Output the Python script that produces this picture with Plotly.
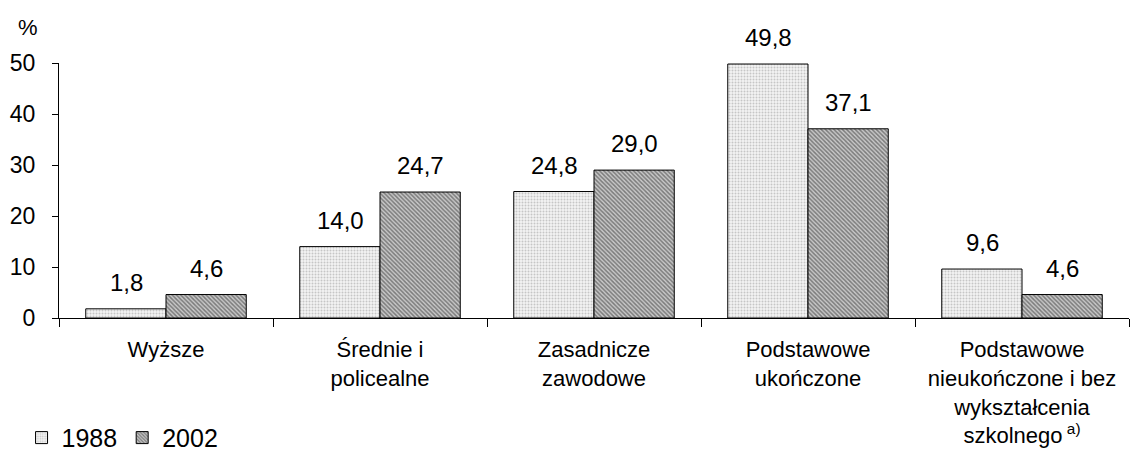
import plotly.graph_objects as go

categories = ["Wyższe", "Średnie i<br>policealne", "Zasadnicze<br>zawodowe",
              "Podstawowe<br>ukończone",
              "Podstawowe<br>nieukończone i bez<br>wykształcenia<br>szkolnego<sup> a)</sup>"]
years = ["1988", "2002"]
v1988 = [1.8, 14.0, 24.8, 49.8, 9.6]
v2002 = [4.6, 24.7, 29.0, 37.1, 4.6]
yticks = [0, 10, 20, 30, 40, 50]

FONT = "Liberation Sans, Arial, sans-serif"

fig = go.Figure()
fig.add_trace(go.Bar(
    name=years[0], x=categories, y=v1988,
    marker=dict(color="#f4f4f4", line=dict(color="black", width=1),
                pattern=dict(shape=".", fgcolor="#9a9a9a", bgcolor="#f2f2f2", size=3, solidity=0.35)),
))
fig.add_trace(go.Bar(
    name=years[1], x=categories, y=v2002,
    marker=dict(color="#888888", line=dict(color="black", width=1),
                pattern=dict(shape="\\", fgcolor="#2e2e2e", bgcolor="#c8c8c8", size=3, solidity=0.5)),
))

def fmt(v):
    return f"{v:.1f}".replace(".", ",")

for vals, shift in ((v1988, -40), (v2002, 40)):
    for c, v in zip(categories, vals):
        fig.add_annotation(x=c, y=v, text=fmt(v), showarrow=False, xshift=shift,
                           yanchor="bottom", yshift=11,
                           font=dict(family=FONT, size=24, color="black"))

fig.add_annotation(xref="paper", yref="paper", x=-0.029, y=1.14, text="%",
                   showarrow=False, font=dict(family=FONT, size=22, color="black"),
                   xanchor="center", yanchor="middle")

fig.update_layout(
    width=1130, height=452,
    margin=dict(l=59, r=1, t=63, b=134, autoexpand=False),
    paper_bgcolor="white", plot_bgcolor="white",
    barmode="group", bargap=0.25, bargroupgap=0,
    font=dict(family=FONT, color="black"),
    showlegend=True,
    legend=dict(orientation="h", x=-0.035, y=-0.47, xanchor="left", yanchor="middle",
                font=dict(family=FONT, size=25), itemwidth=30, tracegroupgap=0,
                bgcolor="rgba(0,0,0,0)"),
    xaxis=dict(showline=True, linecolor="black", linewidth=1,
               ticks="outside", ticklen=8, tickcolor="black",
               tickson="boundaries", tickfont=dict(family=FONT, size=22),
               ticklabelstandoff=12, showgrid=False),
    yaxis=dict(range=[0, 50], tickvals=yticks, showline=True, linecolor="black", linewidth=1,
               ticks="outside", ticklen=6, tickcolor="black", ticklabelstandoff=12,
               tickfont=dict(family=FONT, size=23), showgrid=False, zeroline=False),
)

fig.write_html("out.html", config={"displayModeBar": False},
               post_script="document.body.style.margin='0';document.body.style.padding='0';")
